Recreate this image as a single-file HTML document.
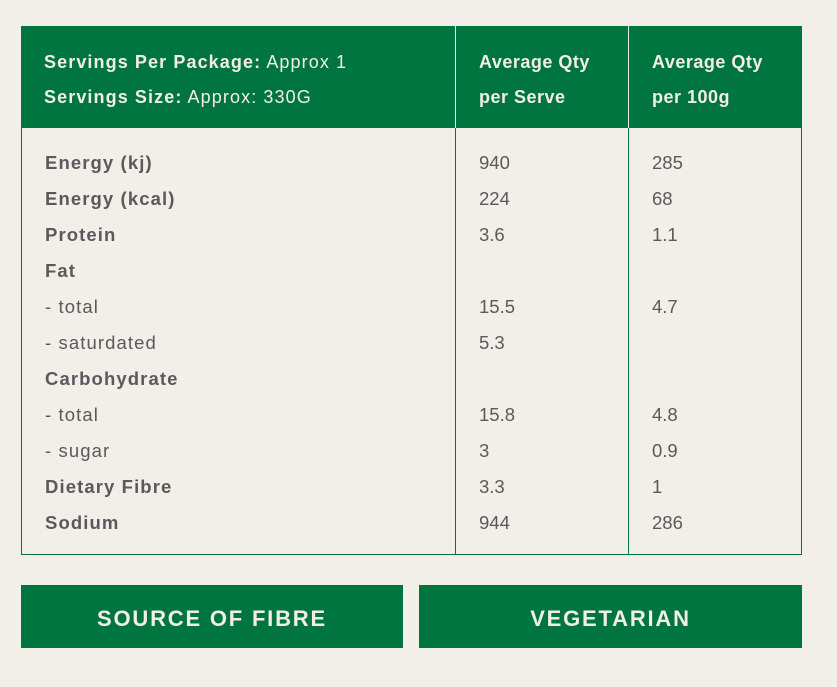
<!DOCTYPE html>
<html><head><style>
body{margin:0;width:837px;height:687px;background:#f2eee8;font-family:"Liberation Sans",sans-serif;position:relative;overflow:hidden}
.t{position:absolute;white-space:nowrap;line-height:20px;transform:translateY(-50%)}
.hd{color:#f2eee8;font-size:18px}
.b{font-weight:bold}
.r{color:#5a5a5c;font-size:18.5px}
.l{letter-spacing:1.1px}
.box{position:absolute;background:#007540}
.btn{color:#f2eee8;font-weight:bold;font-size:22px;letter-spacing:1.8px;display:flex;align-items:center;justify-content:center;box-sizing:border-box;padding-top:5px}
</style></head><body>
<div style="position:absolute;left:21px;top:26px;width:779px;height:527px;border:1px solid #007540"></div>
<div class="box" style="left:21px;top:26px;width:781px;height:102px"></div>
<div style="position:absolute;left:455px;top:26px;width:1px;height:529px;background:#007540"></div>
<div style="position:absolute;left:628px;top:26px;width:1px;height:529px;background:#007540"></div>
<div style="position:absolute;left:455px;top:26px;width:1px;height:102px;background:#e8ebe0"></div>
<div style="position:absolute;left:628px;top:26px;width:1px;height:102px;background:#e8ebe0"></div>
<div class="t hd l" style="left:44px;top:62px"><b>Servings Per Package:</b> Approx 1</div>
<div class="t hd l" style="left:44px;top:97px"><b>Servings Size:</b> Approx: 330G</div>
<div class="t hd b l" style="left:479px;top:62px;letter-spacing:0.5px">Average Qty</div>
<div class="t hd b l" style="left:479px;top:97px;letter-spacing:0.5px">per Serve</div>
<div class="t hd b l" style="left:652px;top:62px;letter-spacing:0.5px">Average Qty</div>
<div class="t hd b l" style="left:652px;top:97px;letter-spacing:0.5px">per 100g</div>

<div class="t r b l" style="left:45px;top:163px">Energy (kj)</div><div class="t r" style="left:479px;top:163px">940</div><div class="t r" style="left:652px;top:163px">285</div>
<div class="t r b l" style="left:45px;top:199px">Energy (kcal)</div><div class="t r" style="left:479px;top:199px">224</div><div class="t r" style="left:652px;top:199px">68</div>
<div class="t r b l" style="left:45px;top:235px">Protein</div><div class="t r" style="left:479px;top:235px">3.6</div><div class="t r" style="left:652px;top:235px">1.1</div>
<div class="t r b l" style="left:45px;top:271px">Fat</div>
<div class="t r l" style="left:45px;top:307px">- total</div><div class="t r" style="left:479px;top:307px">15.5</div><div class="t r" style="left:652px;top:307px">4.7</div>
<div class="t r l" style="left:45px;top:343px">- saturdated</div><div class="t r" style="left:479px;top:343px">5.3</div>
<div class="t r b l" style="left:45px;top:379px">Carbohydrate</div>
<div class="t r l" style="left:45px;top:415px">- total</div><div class="t r" style="left:479px;top:415px">15.8</div><div class="t r" style="left:652px;top:415px">4.8</div>
<div class="t r l" style="left:45px;top:451px">- sugar</div><div class="t r" style="left:479px;top:451px">3</div><div class="t r" style="left:652px;top:451px">0.9</div>
<div class="t r b l" style="left:45px;top:487px">Dietary Fibre</div><div class="t r" style="left:479px;top:487px">3.3</div><div class="t r" style="left:652px;top:487px">1</div>
<div class="t r b l" style="left:45px;top:523px">Sodium</div><div class="t r" style="left:479px;top:523px">944</div><div class="t r" style="left:652px;top:523px">286</div>

<div class="box btn" style="left:21px;top:585px;width:382px;height:63px">SOURCE OF FIBRE</div>
<div class="box btn" style="left:419px;top:585px;width:383px;height:63px">VEGETARIAN</div>
</body></html>
